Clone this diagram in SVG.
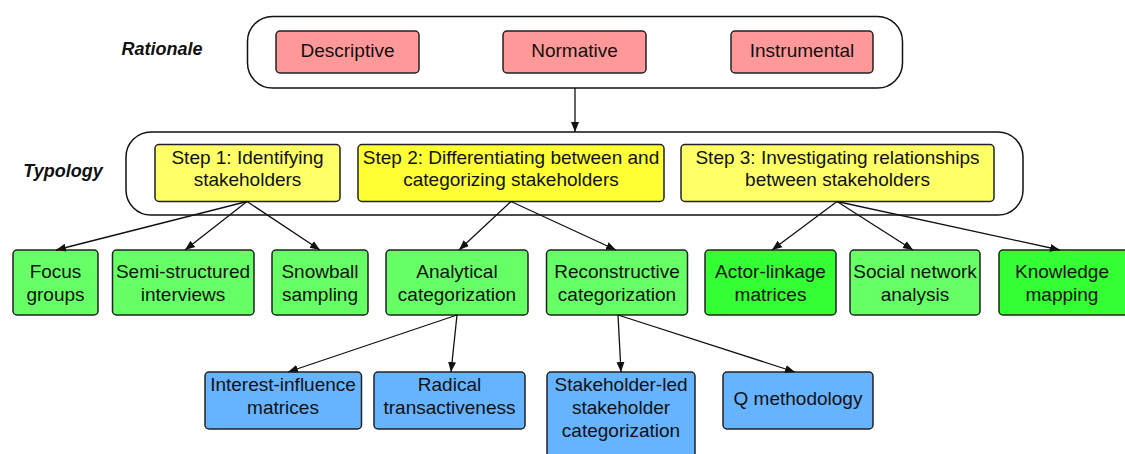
<svg xmlns="http://www.w3.org/2000/svg" width="1125" height="454" viewBox="0 0 1125 454">
<style>
text{font-family:"Liberation Sans",Arial,sans-serif;font-size:19px;fill:#111;text-anchor:middle}
.lbl{font-weight:bold;font-style:italic;font-size:18px}
.cont{fill:#fff;stroke:#111;stroke-width:1.5}
.box{stroke:#222;stroke-width:1.5}
.pink{fill:#ff9999}
.yl{fill:#ffff66}
.yb{fill:#ffff33}
.gl{fill:#66ff66}
.gb{fill:#33ff33}
.bl{fill:#66b3ff}
.conn line{stroke:#111;stroke-width:1.3;marker-end:url(#ah)}
</style>
<defs>
<marker id="ah" viewBox="0 0 10 10" refX="10" refY="5" markerWidth="10" markerHeight="10" markerUnits="userSpaceOnUse" orient="auto">
<path d="M0,1 L10,5 L0,9 Z" fill="#111"/>
</marker>
</defs>
<rect width="1125" height="454" fill="#fff"/>

<g id="rationale-label"><text class="lbl" x="162" y="55">Rationale</text></g>
<g id="typology-label"><text class="lbl" x="63" y="177">Typology</text></g>

<g id="rationale"><rect class="cont" x="247.5" y="16.5" width="655" height="71.5" rx="25"/></g>
<g id="descriptive"><rect class="box pink" x="276" y="31" width="143" height="42" rx="4"/><text x="347.5" y="56.5">Descriptive</text></g>
<g id="normative"><rect class="box pink" x="503" y="31" width="143" height="42" rx="4"/><text x="574.5" y="56.5">Normative</text></g>
<g id="instrumental"><rect class="box pink" x="731" y="31" width="142" height="42" rx="4"/><text x="802" y="56.5">Instrumental</text></g>

<g id="typology"><rect class="cont" x="126" y="132" width="897" height="83" rx="25"/></g>
<g id="step1"><rect class="box yl" x="155" y="144.5" width="185" height="57" rx="4"/><text x="247.5" y="163.5">Step 1: Identifying</text><text x="247.5" y="186">stakeholders</text></g>
<g id="step2"><rect class="box yb" x="358" y="144.5" width="306" height="57" rx="4"/><text x="511" y="163.5">Step 2: Differentiating between and</text><text x="511" y="186">categorizing stakeholders</text></g>
<g id="step3"><rect class="box yl" x="681" y="144.5" width="313" height="57" rx="4"/><text x="837.5" y="163.5">Step 3: Investigating relationships</text><text x="837.5" y="186">between stakeholders</text></g>

<g id="focus"><rect class="box gl" x="13" y="250" width="85" height="65" rx="4"/><text x="55.5" y="277.5">Focus</text><text x="55.5" y="300.5">groups</text></g>
<g id="semi"><rect class="box gl" x="112.5" y="250" width="141.5" height="65" rx="4"/><text x="183" y="277.5">Semi-structured</text><text x="183" y="300.5">interviews</text></g>
<g id="snowball"><rect class="box gl" x="272" y="250" width="96" height="65" rx="4"/><text x="320" y="277.5">Snowball</text><text x="320" y="300.5">sampling</text></g>
<g id="analytical"><rect class="box gl" x="386" y="250" width="142" height="65" rx="4"/><text x="457" y="277.5">Analytical</text><text x="457" y="300.5">categorization</text></g>
<g id="reconstructive"><rect class="box gl" x="546.5" y="250" width="141" height="65" rx="4"/><text x="617" y="277.5">Reconstructive</text><text x="617" y="300.5">categorization</text></g>
<g id="actor"><rect class="box gb" x="705" y="250" width="131" height="65" rx="4"/><text x="770.5" y="277.5">Actor-linkage</text><text x="770.5" y="300.5">matrices</text></g>
<g id="social"><rect class="box gl" x="850" y="250" width="130" height="65" rx="4"/><text x="915" y="277.5">Social network</text><text x="915" y="300.5">analysis</text></g>
<g id="knowledge"><rect class="box gb" x="999" y="250" width="135" height="65" rx="4"/><text x="1062" y="277.5">Knowledge</text><text x="1062" y="300.5">mapping</text></g>

<g id="interest"><rect class="box bl" x="205" y="372" width="156.5" height="57" rx="4"/><text x="283" y="390.5">Interest-influence</text><text x="283" y="413.5">matrices</text></g>
<g id="radical"><rect class="box bl" x="374" y="372" width="151" height="57" rx="4"/><text x="449.5" y="390.5">Radical</text><text x="449.5" y="413.5">transactiveness</text></g>
<g id="stakeholderled"><rect class="box bl" x="547" y="372" width="148" height="90" rx="4"/><text x="621" y="390.5">Stakeholder-led</text><text x="621" y="413.5">stakeholder</text><text x="621" y="436.5">categorization</text></g>
<g id="qmethod"><rect class="box bl" x="723" y="372" width="150" height="57" rx="4"/><text x="798" y="405">Q methodology</text></g>

<g id="connectors" class="conn">
<line x1="575" y1="88" x2="575" y2="132"/>
<line x1="247" y1="201.5" x2="56" y2="250"/>
<line x1="247" y1="201.5" x2="185" y2="250"/>
<line x1="247" y1="201.5" x2="320" y2="250"/>
<line x1="511" y1="201.5" x2="459" y2="250"/>
<line x1="511" y1="201.5" x2="616" y2="250"/>
<line x1="837" y1="201.5" x2="772" y2="250"/>
<line x1="837" y1="201.5" x2="913" y2="250"/>
<line x1="837" y1="201.5" x2="1060" y2="250"/>
<line x1="457" y1="315" x2="288" y2="372"/>
<line x1="457" y1="315" x2="451" y2="372"/>
<line x1="618" y1="315" x2="621" y2="372"/>
<line x1="618" y1="315" x2="795" y2="372"/>
</g>
</svg>
